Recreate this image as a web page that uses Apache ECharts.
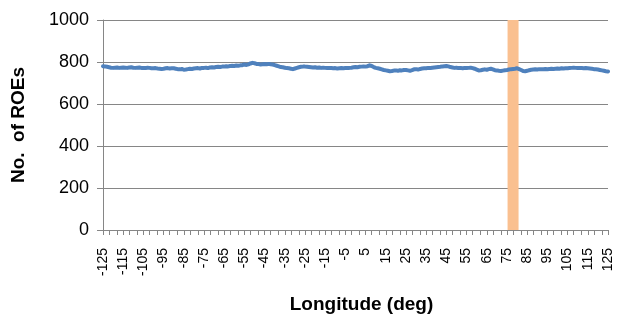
<!DOCTYPE html>
<html>
<head>
<meta charset="utf-8">
<script src="https://cdn.jsdelivr.net/npm/echarts@6/dist/echarts.min.js"></script>
<style>html,body{margin:0;padding:0;background:#fff;}#c{width:617px;height:317px;}</style>
</head>
<body>
<div id="c"></div>
<script>
// Longitude categories (deg), one per degree
const lonStart = -125;
const lonEnd = 125;
const longitudes = [];
for (let l = lonStart; l <= lonEnd; l++) longitudes.push(String(l));

// No. of ROEs for each longitude (-125 .. 125)
const roeCounts = [
  780,779,777,775,773,772,773,774,772,773,
  774,773,772,774,775,773,772,773,774,772,
  772,771,773,772,770,770,771,769,768,767,
  768,770,771,769,770,770,768,766,765,767,
  763,764,766,768,767,769,770,771,769,772,
  772,773,771,774,775,774,776,777,776,778,
  778,780,779,781,782,781,783,782,784,785,
  788,786,789,793,796,794,791,790,788,789,
  790,789,791,789,788,785,782,779,776,775,
  773,771,770,768,766,769,772,775,777,778,
  778,777,776,775,774,775,773,774,772,773,
  772,771,772,771,770,771,769,770,771,770,
  771,772,772,773,775,776,775,777,778,779,
  778,780,784,781,776,772,770,768,765,762,
  760,758,756,757,759,760,758,761,760,762,
  762,760,758,761,765,766,764,767,769,770,
  770,772,771,773,774,775,776,777,779,780,
  781,779,776,774,772,773,771,772,770,771,
  771,772,773,771,768,764,760,761,763,765,
  763,766,768,765,761,760,758,757,759,761,
  762,764,766,767,768,770,766,762,757,756,
  758,761,763,764,765,764,766,765,766,767,
  766,767,768,767,768,769,768,770,769,770,
  770,771,772,773,772,771,772,771,770,771,
  770,769,768,766,765,764,762,760,758,756,
  755
];

// Highlight marker (orange column)
const markerLon = ['78'];
const markerValue = [1000];

// Y axis ticks
const yMin = 0, yMax = 1000, yStep = 200;

const chart = echarts.init(document.getElementById('c'), null, {renderer: 'canvas'});
chart.setOption({
  animation: false,
  backgroundColor: '#fff',
  grid: {left: 103, right: 9, top: 20, bottom: 87, containLabel: false, outerBoundsMode: 'none'},
  xAxis: {
    type: 'category',
    data: longitudes,
    boundaryGap: false,
    name: 'Longitude (deg)',
    nameLocation: 'middle',
    nameGap: 65,
    nameTextStyle: {fontFamily: 'Liberation Sans', fontWeight: 'bold', fontSize: 19, color: '#000', padding: [0, 0, 0, 12]},
    axisLine: {show: true, lineStyle: {color: '#868686', width: 1}},
    axisTick: {show: true, length: 5, lineStyle: {color: '#868686'},
      interval: function (i) { const m = i % 10; return m === 0 || m === 3 || m === 7; }},
    axisLabel: {
      rotate: 90, margin: 18, color: '#000', fontFamily: 'Liberation Sans', fontSize: 14,
      interval: function (i) { return i % 10 === 0; }
    },
    splitLine: {show: false}
  },
  yAxis: {
    type: 'value',
    min: yMin, max: yMax, interval: yStep,
    name: 'No.  of ROEs',
    nameLocation: 'middle',
    nameGap: 63,
    nameTextStyle: {fontFamily: 'Liberation Sans', fontWeight: 'bold', fontSize: 19, color: '#000', padding: [0, 0, 12, 0]},
    axisLine: {show: true, lineStyle: {color: '#868686', width: 1}},
    axisTick: {show: true, length: 6, lineStyle: {color: '#868686'}},
    axisLabel: {margin: 14, color: '#000', fontFamily: 'Liberation Sans', fontSize: 18,
      formatter: function (v) { return String(v); }},
    splitLine: {show: true, lineStyle: {color: '#868686', width: 1}}
  },
  series: [
    {
      type: 'bar',
      data: markerLon.map((l, i) => [l, markerValue[i]]),
      barWidth: 11,
      itemStyle: {color: '#FAC090'},
      z: 1,
      silent: true
    },
    {
      type: 'line',
      data: roeCounts,
      symbol: 'none',
      smooth: false,
      lineStyle: {color: '#4F81BD', width: 4, join: 'round', cap: 'round'},
      z: 3
    }
  ]
});
</script>
</body>
</html>
